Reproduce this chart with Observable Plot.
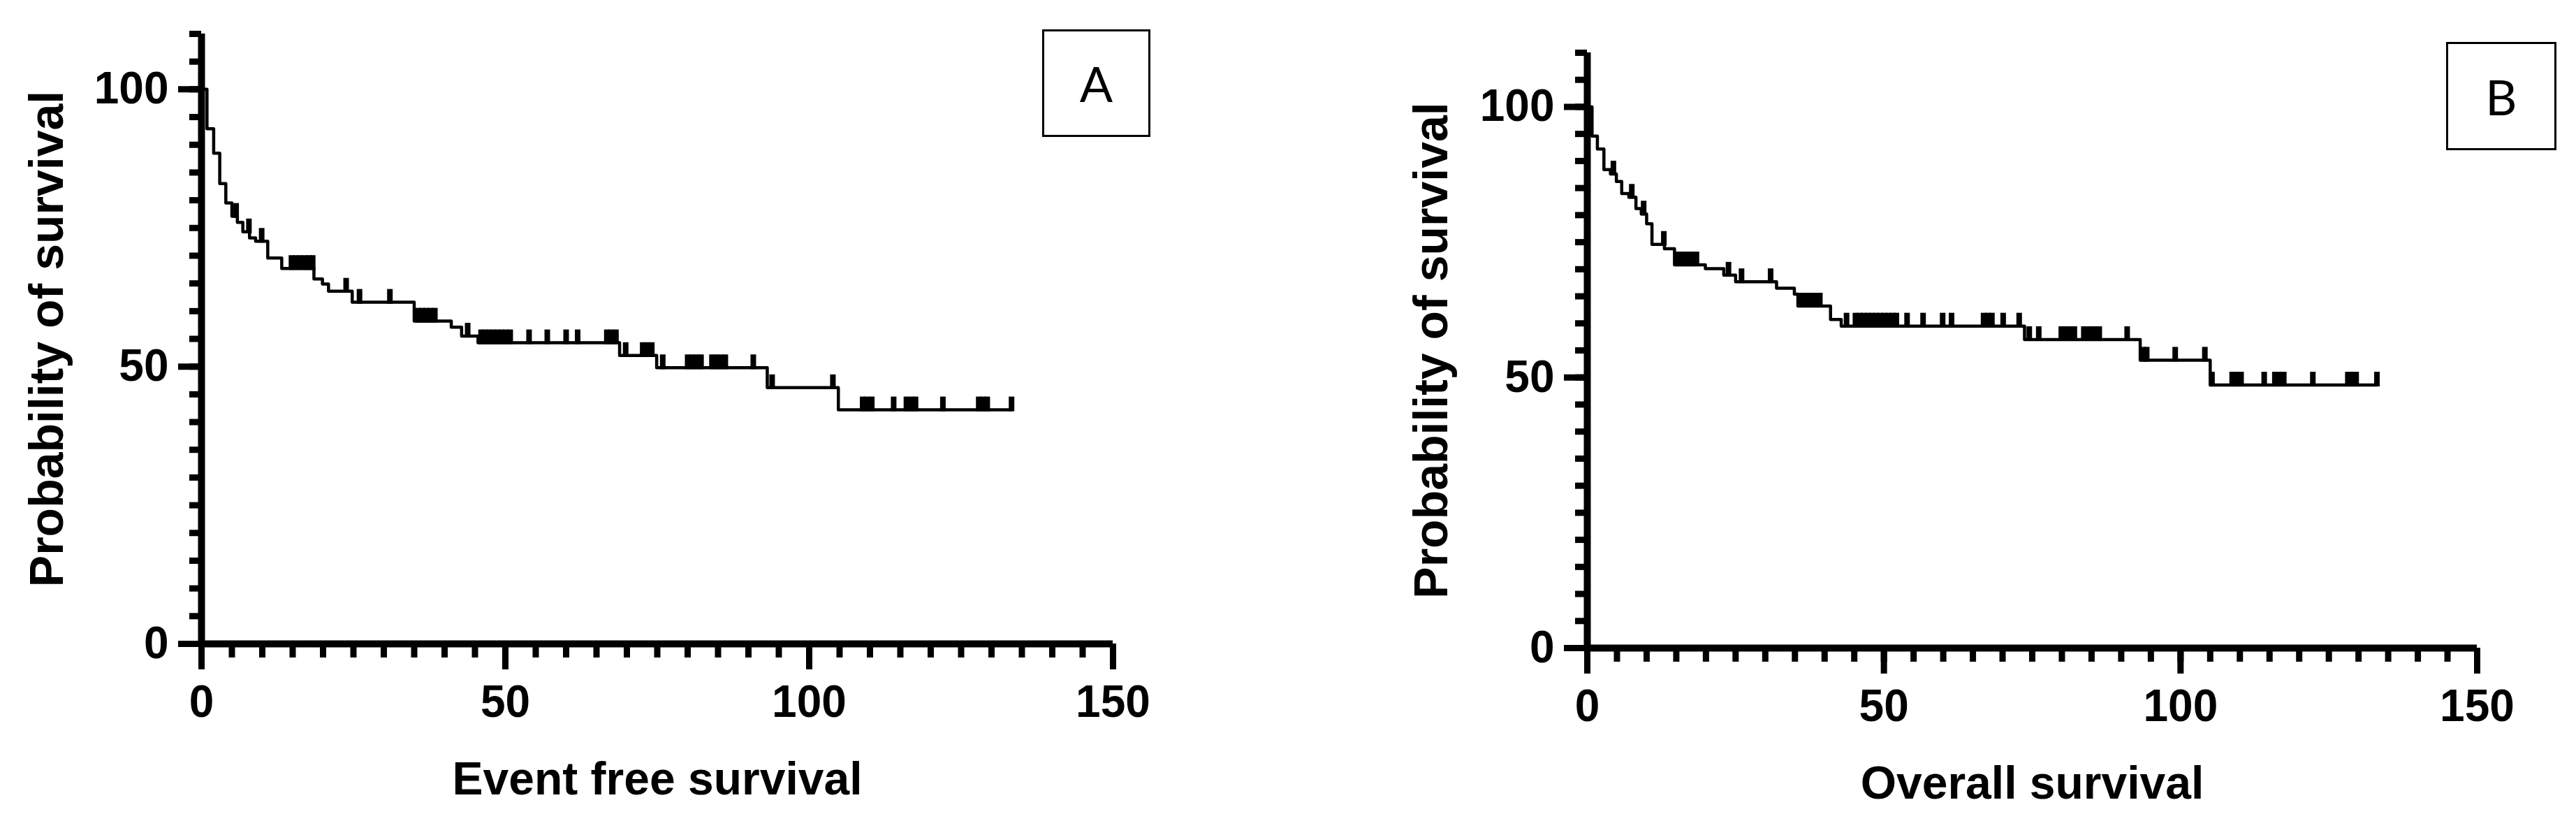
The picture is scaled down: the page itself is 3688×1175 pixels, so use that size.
<!DOCTYPE html>
<html><head><meta charset="utf-8">
<script src="https://cdn.jsdelivr.net/npm/d3@7"></script>
<script src="https://cdn.jsdelivr.net/npm/@observablehq/plot@0.6"></script>
<style>
html,body{margin:0;padding:0;background:#fff;}
#wrap{position:relative;width:3688px;height:1175px;overflow:hidden;background:#fff;}
.panel{position:absolute;top:0;}
.tag{position:absolute;border:3px solid #000;box-sizing:border-box;font-family:Lato,"Open Sans",sans-serif;font-size:70px;display:flex;align-items:center;justify-content:center;color:#000;}
</style></head>
<body><div id="wrap"></div>
<script>
// ---- Data ----
const yTicksMajor = [0, 50, 100];
const yTicksMinor = d3.range(0, 111, 5);
const xTicksMajor = [0, 50, 100, 150];
const xTicksMinor = d3.range(0, 151, 5);

// Panel A: Event free survival (step times and survival after each drop)
const efsTime = [0, 0.9, 2.0, 3.0, 4.0, 5.0, 5.9, 6.8, 7.9, 8.9, 10.9, 13.2, 18.5, 19.9, 20.9, 24.8, 35.0, 41.1, 42.8, 45.5, 68.8, 74.9, 93.1, 104.8, 133.3];
const efsSurv = [100, 92.9, 88.5, 83.0, 79.5, 77.1, 76.0, 74.3, 73.2, 72.6, 69.6, 67.7, 65.8, 64.9, 63.6, 61.6, 58.2, 57.1, 55.5, 54.3, 52.0, 49.8, 46.2, 42.2, 42.2];
const efsCensor = [5.7, 7.8, 9.9, 14.8, 15.5, 16.2, 17.0, 17.7, 18.3, 23.8, 26.0, 31.0, 35.6, 36.3, 37.0, 37.7, 38.4, 43.8, 46.0, 46.6, 47.3, 48.0, 48.7, 49.4, 50.1, 50.8, 53.9, 56.9, 60.0, 61.9, 66.7, 67.4, 68.2, 69.8, 72.6, 73.3, 74.1, 75.9, 80.0, 80.7, 81.5, 82.2, 84.0, 84.7, 85.5, 86.2, 90.8, 93.9, 103.9, 108.8, 109.5, 110.3, 113.9, 116.0, 116.8, 117.5, 122.0, 127.9, 128.6, 129.3, 133.3];

// Panel B: Overall survival
const osTime = [0, 0.8, 1.7, 2.8, 3.9, 4.9, 5.8, 7.0, 8.2, 9.1, 10.0, 10.9, 13.0, 14.7, 19.9, 23.0, 25.0, 31.9, 34.9, 35.5, 41.0, 42.8, 73.7, 93.2, 105.0, 133.1];
const osSurv = [100, 94.6, 92.2, 88.4, 87.6, 86.2, 84.0, 83.3, 81.2, 80.2, 78.4, 74.6, 73.8, 70.8, 70.1, 68.9, 67.7, 66.5, 65.4, 63.2, 60.7, 59.5, 57.0, 53.2, 48.6, 48.6];
const osCensor = [4.4, 7.5, 9.5, 12.9, 15.0, 15.7, 16.4, 17.1, 17.8, 18.4, 23.8, 26.0, 30.9, 35.9, 36.6, 37.3, 38.0, 38.7, 39.2, 43.7, 45.2, 45.9, 46.6, 47.3, 48.0, 48.7, 49.4, 50.1, 50.8, 51.5, 52.1, 53.9, 56.6, 59.9, 61.4, 66.8, 67.5, 68.2, 70.1, 72.8, 74.5, 76.1, 79.9, 80.6, 81.3, 82.1, 83.7, 84.4, 85.1, 85.8, 86.3, 91.0, 93.7, 94.3, 99.1, 104.1, 105.3, 108.7, 109.4, 110.2, 114.1, 115.9, 116.6, 117.4, 122.3, 128.2, 128.9, 129.6, 133.1];

const yTitle = "Probability of survival";
const xTitleA = "Event free survival";
const xTitleB = "Overall survival";
const tagA = "A", tagB = "B";

// ---- helpers ----
function survAt(times, surv, t) {
  let s = surv[0];
  for (let i = 0; i < times.length; i++) if (times[i] <= t + 1e-9) s = surv[i];
  return s;
}
const censorSymbol = {
  draw(ctx) { ctx.moveTo(-4, 2); ctx.lineTo(4, 2); ctx.lineTo(4, -19); ctx.lineTo(-4, -19); ctx.closePath(); }
};

function panel({times, surv, censor, xTitle, marginLeft, marginRight, marginTop, marginBottom, titleDx}) {
  const steps = times.map((t, i) => ({t, s: surv[i]}));
  const cens = censor.map(t => ({t, s: survAt(times, surv, t)}));
  return Plot.plot({
    width: 1844, height: 1175,
    marginLeft, marginRight, marginTop, marginBottom,
    x: {domain: [0, 150]},
    y: {domain: [0, 110]},
    style: {fontFamily: "'Liberation Sans', Arial, sans-serif", fontWeight: "bold", background: "transparent", color: "#000", overflow: "visible"},
    marks: [
      Plot.axisY({ticks: yTicksMinor, tickSize: 17, tickFormat: () => "", strokeWidth: 9, label: null}),
      Plot.axisY({ticks: yTicksMajor, tickSize: 33, tickPadding: 14, fontSize: 64, strokeWidth: 9, label: null}),
      Plot.axisX({ticks: xTicksMinor, tickSize: 20, tickFormat: () => "", strokeWidth: 9, label: null}),
      Plot.axisX({ticks: xTicksMajor, tickSize: 37, tickPadding: 22, fontSize: 64, strokeWidth: 9, label: null}),
      Plot.ruleX([0], {y1: 0, y2: 110, strokeWidth: 10}),
      Plot.ruleY([0], {x1: 0, x2: 150, strokeWidth: 10}),
      Plot.line(steps, {x: "t", y: "s", curve: "step-after", strokeWidth: 4.5, stroke: "#000"}),
      Plot.dot(cens, {x: "t", y: "s", symbol: censorSymbol, fill: "#000", stroke: null, r: 5}),
      Plot.text([yTitle], {text: d => d, frameAnchor: "left", textAnchor: "middle", lineAnchor: "middle", dx: titleDx, rotate: -90, fontSize: 68, fontWeight: "bold", fill: "#000"}),
      Plot.text([xTitle], {text: d => d, frameAnchor: "bottom", textAnchor: "middle", dy: 194, lineAnchor: "middle", fontSize: 66, fontWeight: "bold", fill: "#000"})
    ]
  });
}

const wrap = document.getElementById("wrap");
const A = panel({times: efsTime, surv: efsSurv, censor: efsCensor, xTitle: xTitleA, marginLeft: 288, marginRight: 251, marginTop: 48, marginBottom: 254, titleDx: -220});
A.classList.add("panel"); A.style.left = "0px";
wrap.appendChild(A);
const B = panel({times: osTime, surv: osSurv, censor: osCensor, xTitle: xTitleB, marginLeft: 428, marginRight: 142, marginTop: 75, marginBottom: 248, titleDx: -222});
B.classList.add("panel"); B.style.left = "1844px";
wrap.appendChild(B);

function addTag(txt, left, top, w, h) {
  const d = document.createElement("div");
  d.className = "tag"; d.textContent = txt;
  Object.assign(d.style, {left: left + "px", top: top + "px", width: w + "px", height: h + "px"});
  wrap.appendChild(d);
}
addTag(tagA, 1492, 42, 155, 154);
addTag(tagB, 3502, 60, 158, 155);
</script>
</body></html>
